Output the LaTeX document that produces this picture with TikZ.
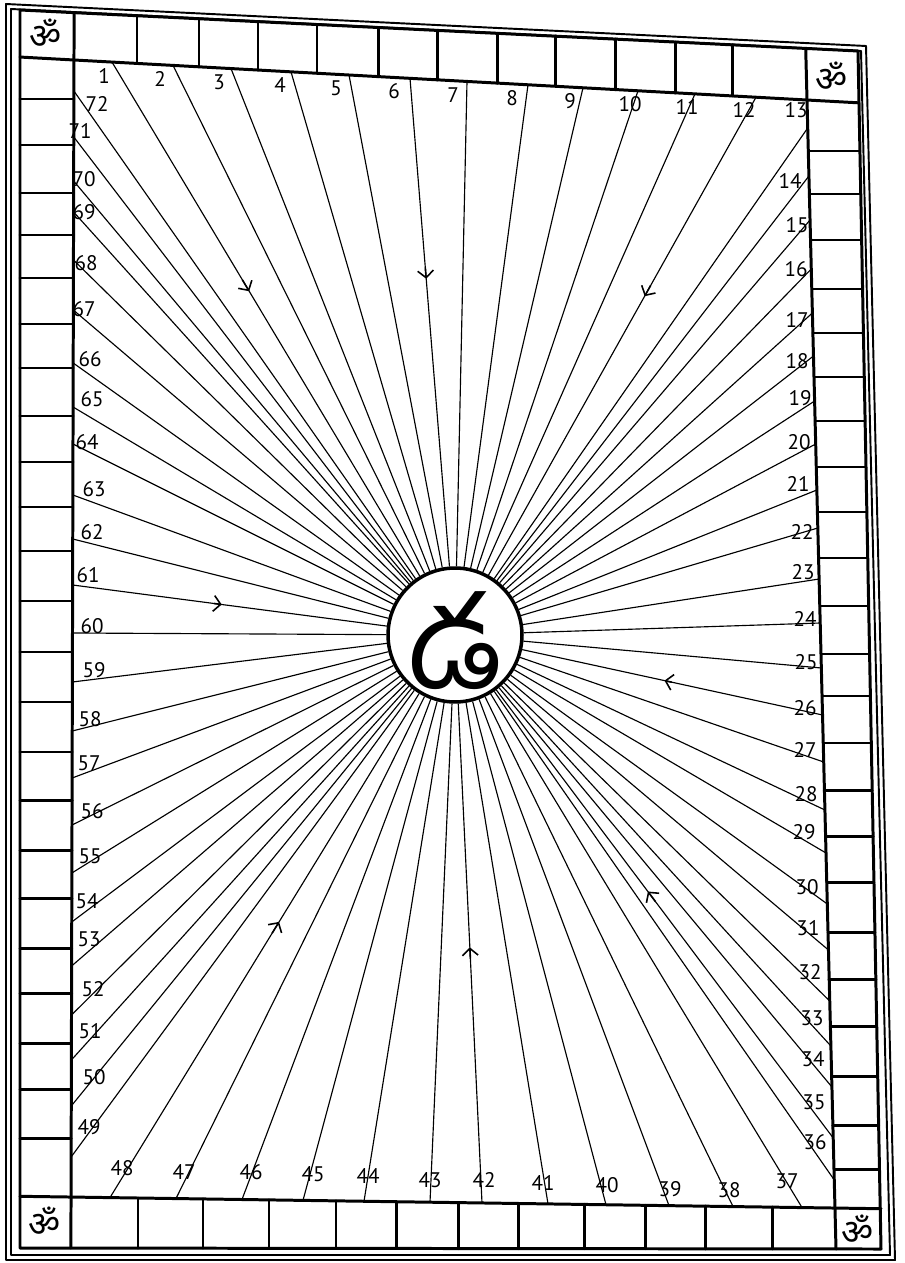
\documentclass[tikz,border=0pt]{standalone}
\usepackage{fontspec}
\newfontfamily\te[Script=Telugu]{Hind Guntur}
\newfontfamily\dev[Script=Devanagari]{Noto Sans}
\newfontfamily\lab{PT Sans}
\usetikzlibrary{arrows.meta,calc}
\begin{document}
\begin{tikzpicture}[x=0.02cm,y=-0.02cm,
  frame/.style={line width=1.7pt, line join=round, line cap=round},
  thinframe/.style={line width=1.1pt, line join=round},
  ray/.style={line width=0.65pt},
  num/.style={font=\lab\fontsize{12}{12}\selectfont, inner sep=0pt},
  om/.style={font=\dev\fontsize{20}{20}\selectfont, inner sep=0pt},
  mk/.style={line width=0.9pt, -{Straight Barb[length=4pt,width=9pt]}}]
\useasboundingbox (0,0) rectangle (905,1263);
% outer double frame
\draw[thinframe] (6,4) -- (866,46) -- (895,1260) -- (6,1260) -- cycle;
\draw[thinframe] (11,9) -- (861,51) -- (890,1255) -- (11,1255) -- cycle;
% cell strip boundary
\draw[frame] (20,10) -- (858,51) -- (881,1249) -- (20,1248) -- cycle;
% inner lines of the strip
\draw[frame] (20,57.05) -- (858,102.8);
\draw[frame] (20,1196.3) -- (881,1208.7);
\draw[frame] (74.1,12.6) -- (70.9,1248);
\draw[frame] (805.7,48.5) -- (836,1249);
% top row dividers
\foreach \x in {137,199,258,317,378,437,497,555,615,675,732}
  \draw[frame] (\x,{10+(\x-20)*0.04893}) -- (\x,{60+(\x-74)*0.0546});
% bottom row dividers
\foreach \x in {138,203,269,336,396,458,518,584,645,705,772}
  \draw[frame] (\x,{1197+(\x-71)*0.0144}) -- (\x,{1248+(\x-20)*0.00116});
% left column dividers
\foreach \y in {99,145,193,235,278,324,368,416,462,507,551,601,652,702,752,800,850,898,948,993,1043,1089,1138}
  \draw[frame] (20,\y) -- ({74-(\y-60)*0.00264},\y);
% right column dividers
\foreach \y in {151,194,240,289,333,377,421,467,512,558,606,654,696,743,790,836,882,932,979,1026,1076,1125,1169}
  \draw[frame] ({807+(\y-100)*0.02527},\y) -- ({858+(\y-51)*0.01919},\y);
% corner om signs
\node[om] (om1) at (46,34) {ॐ};
\node[om] (om2) at (832,77) {ॐ};
\node[om] (om3) at (45,1222) {ॐ};
\node[om] (om4) at (858,1230) {ॐ};
% centre
\coordinate (cc) at (455,635);
\node[circle, draw, line width=2pt, minimum size=2.68cm, inner sep=0pt] (C) at (cc) {};
\node[font=\te\fontsize{72}{72}\selectfont, inner sep=0pt] (G) at (455,641) {డ};
% ray end points
\foreach \x [count=\i] in {112,173,231,291,349,410,467,528,583,638,695,756}
  \coordinate (r\i) at (\x,{60+(\x-74)*0.0546});
\foreach \y [count=\i from 13] in {128,176,220,269,313,356,401,444,490,528,579,623,668,715,762,810,853,904,950,1001,1046,1087,1138,1180}
  \coordinate (r\i) at ({807+(\y-100)*0.02527},\y);
\foreach \x [count=\i from 37] in {802,733,669,606,548,482,430,364,303,242,176,110}
  \coordinate (r\i) at (\x,{1197+(\x-71)*0.0144});
\foreach \y [count=\i from 49] in {1157,1106,1060,1015,966,922,873,825,778,731,682,633,585,539,495,444,407,363,310,260,212,181,137,91}
  \coordinate (r\i) at ({74-(\y-60)*0.00264},\y);
% rays
\foreach \i in {1,...,72}
  \draw[ray] (r\i) -- (C);
% arrow marks
\foreach \i/\s/\t in {1/0.38/0.40,6/0.34/0.36,12/0.35/0.37,61/0.37/0.39,26/0.41/0.43,48/0.47/0.49,42/0.43/0.45,35/0.47/0.49}
  \draw[mk] ($(r\i)!\s!(cc)$) -- ($(r\i)!\t!(cc)$);
% number labels
\foreach \n/\x/\y in {1/104/76,2/160/79,3/219/82,4/280/85,5/336/88,6/394/91,7/453/95,8/512/98,9/570/101,10/630/104,11/687/107,12/744/110,
  13/796/110,14/790/181,15/797/225,16/796/269,17/797/320,18/797/361,19/800/398,20/799/442,21/798/484,22/802/532,23/803/572,24/805/619,
  25/806/662,26/805/708,27/805/750,28/806/794,29/804/832,30/807/887,31/808/928,32/810/972,33/812/1018,34/813/1059,35/814/1102,36/815/1142,
  37/787/1181,38/729/1190,39/670/1189,40/607/1185,41/543/1183,42/484/1180,43/430/1180,44/368/1176,45/313/1174,46/251/1172,47/184/1172,48/122/1168,
  49/89/1127,50/94/1077,51/90/1031,52/93/989,53/89/939,54/87/901,55/90/856,56/92/811,57/89/763,58/90/719,59/94/670,60/92/626,
  61/88/575,62/92/532,63/94/489,64/87/442,65/92/399,66/90/359,67/84/309,68/86/263,69/84/212,70/84/179,71/80/131,72/97/104}
  \node[num] (l\n) at (\x,\y) {\n};
\end{tikzpicture}
\end{document}
